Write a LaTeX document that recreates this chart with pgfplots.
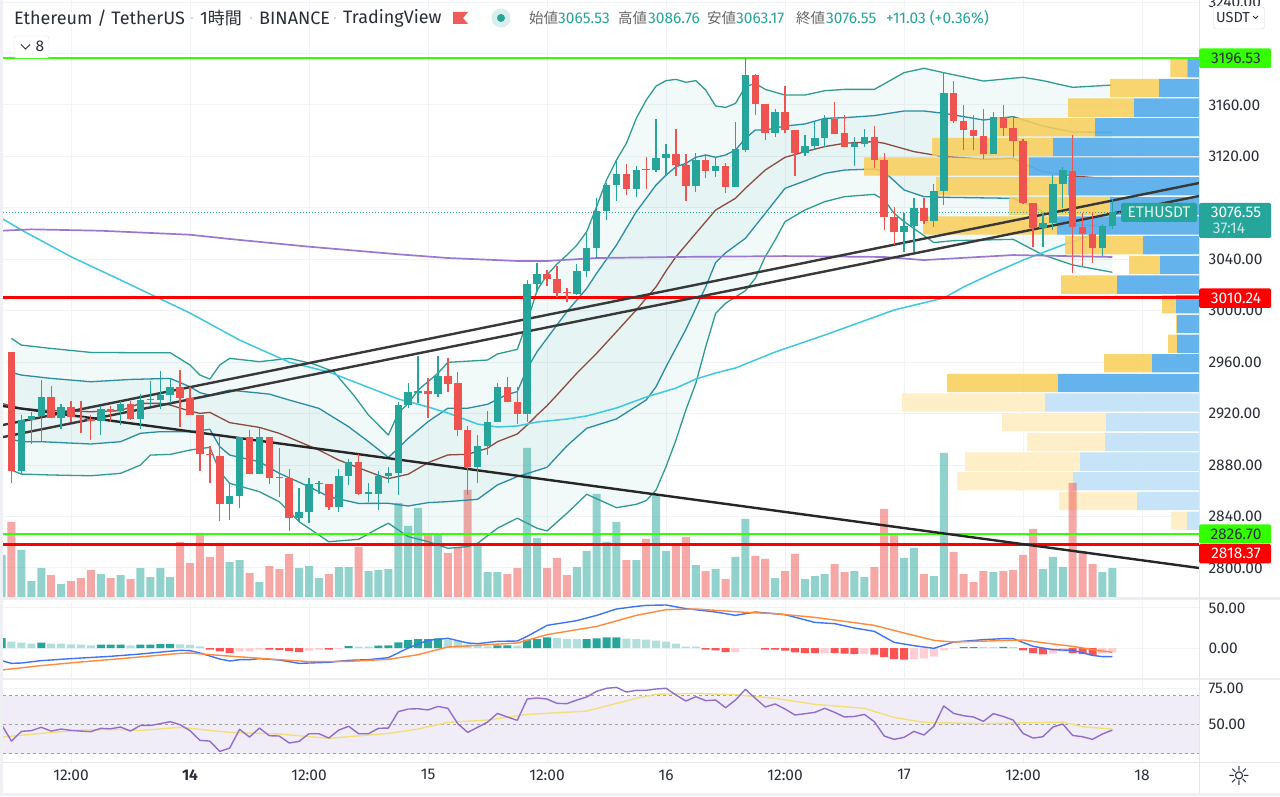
\documentclass[border=0pt]{standalone}
\usepackage{pgfplots}
\usepackage{pgfplotstable}
\usepackage{fontspec}
\pgfplotsset{compat=1.18}
\setmainfont{Fira Sans}
\newfontfamily\cjk{Noto Sans CJK JP}
\newfontfamily\dejavu{DejaVu Sans}
\definecolor{upc}{HTML}{26A69A}
\definecolor{dnc}{HTML}{EF5350}
\definecolor{gridc}{HTML}{F1F3F7}
\definecolor{sepc}{HTML}{E4E6EC}
\definecolor{txt}{HTML}{2A2E39}
\definecolor{bbout}{HTML}{2F9C90}
\definecolor{bbin}{HTML}{2B8CA3}
\definecolor{bbmid}{HTML}{8C4A42}
\definecolor{cyanl}{HTML}{3FC8DE}
\definecolor{purp}{HTML}{9A78D2}
\definecolor{vpb}{HTML}{5AAEEC}
\definecolor{vpy}{HTML}{F9CE58}
\definecolor{vpbl}{HTML}{C6E3F8}
\definecolor{vpyl}{HTML}{FEEFC9}
\definecolor{hgreen}{HTML}{33FF00}
\definecolor{hred}{HTML}{FF0000}
\definecolor{macdb}{HTML}{3F73F5}
\definecolor{macdo}{HTML}{FF8A3C}
\definecolor{hs}{HTML}{26A69A}
\definecolor{hl}{HTML}{B2DFDB}
\definecolor{hr}{HTML}{FF5252}
\definecolor{hrl}{HTML}{FFCDD2}
\definecolor{rsip}{HTML}{8F6FCB}
\definecolor{rsiy}{HTML}{F3DF7A}
\definecolor{rsif}{HTML}{EFEBF7}
\pgfplotstableread{
x o hi lo c
-5 2875.6 2919 2873.5 2915
-4 2915 2921.5 2896.4 2917.9
-3 2917.9 2946 2898 2933.2
-1 2917 2927.5 2907.8 2925
3 2914.2 2926 2903.4 2924
5 2922 2929.5 2911 2927.5
7 2916 2935.2 2907.8 2930.6
8 2930.3 2945 2926 2931
9 2930.6 2953.4 2924 2934.5
10 2934.5 2948 2928 2940.4
16 2850 2865.8 2837.3 2856.2
17 2856.2 2902 2847 2902
19 2872.8 2908.5 2872.8 2901.8
23 2838.8 2862.4 2835.7 2843.8
24 2843.8 2869.7 2834.7 2865
25 2865.3 2867.9 2857.5 2866.3
27 2847.1 2876.7 2843.8 2871.2
28 2871.2 2884.4 2864.2 2882.6
30 2857.8 2866.3 2851.5 2858.8
31 2857.8 2875.6 2845 2871.7
32 2871.7 2878.7 2865.8 2873.8
33 2874.1 2929.3 2856.8 2926.7
34 2926.7 2943.6 2924.2 2936.6
35 2936.3 2964.6 2928 2937.9
37 2935.6 2964.6 2932.7 2949.5
41 2878.8 2903.4 2866.4 2895.1
42 2895.1 2922 2887.9 2913.8
43 2913.5 2943.6 2913.5 2940.7
46 2919.7 3023.9 2913.8 3020.5
47 3020.5 3037.4 3014.8 3028.6
51 3013.3 3036.3 3012.2 3030.9
52 3030.9 3060.7 3026 3048.5
53 3048.5 3087.4 3040.8 3077.6
54 3077.6 3099 3070.6 3098
55 3098 3117.2 3085.6 3106.3
57 3094.4 3112.8 3088.2 3109.4
59 3109.4 3148.8 3108.1 3118.7
60 3118.7 3129.4 3104.8 3122.1
63 3097 3122.4 3092.6 3117.5
65 3108.9 3118.5 3104.2 3112.5
67 3096 3147 3096 3125.5
68 3125 3196.53 3123.2 3183.3
71 3138.4 3156.6 3135.3 3154.5
74 3122.9 3136.6 3120.3 3128.3
75 3128 3147 3125 3134.6
76 3134.6 3152.2 3127 3149
79 3127 3135.3 3112.8 3130.2
80 3129.4 3141 3127.6 3135.3
84 3061.5 3075.7 3045.9 3065.9
85 3065.6 3087.4 3045.9 3080.1
87 3069.8 3098.3 3064.9 3093.1
88 3093.1 3185.9 3082 3169
93 3121.6 3154.2 3121.6 3150.4
98 3064 3075.7 3049.8 3068
99 3068 3105.5 3062.8 3098.5
100 3098.5 3112 3079.6 3109.4
104 3049 3067.4 3042.6 3065.53
105 3065.53 3086.76 3063.17 3076.55
}\upT
\pgfplotstableread{
x o hi lo c
-6 2967.6 2968 2865.8 2875.6
-2 2933.2 2941.4 2916.3 2917
0 2925 2929.5 2913.7 2917.6
1 2917.6 2929.5 2904.6 2916.6
2 2916 2919 2899.5 2914.5
4 2924 2926 2913.7 2921.5
6 2927.7 2929.5 2915 2916
11 2940.4 2954 2909.3 2931.8
12 2931.8 2941 2918.9 2918.9
13 2918.9 2918.9 2875.6 2888.8
14 2888.8 2894.8 2865.8 2887.5
15 2887.3 2902 2836.2 2850
18 2901.8 2907.2 2872.8 2872.8
20 2901.8 2901.8 2865.3 2870.2
21 2870.7 2893 2855.4 2869.7
22 2870 2876.7 2828.5 2838.8
26 2865.3 2865.3 2845 2847.1
29 2882.4 2889 2856.5 2857.8
36 2937.9 2947.5 2916.9 2935.6
38 2949.3 2963 2937.1 2943.3
39 2943.6 2952.7 2902.9 2907
40 2907.3 2910.4 2856.8 2878.8
44 2940.7 2948.3 2928.8 2928.8
45 2928.8 2940.7 2911.7 2919.7
48 3028.6 3031.7 3019.2 3024.4
49 3024.4 3034.8 3010.4 3014
50 3014.3 3017.4 3007 3013.5
56 3106.3 3113.8 3090 3094.4
58 3110.2 3119.8 3094.6 3109.2
61 3122.1 3141 3104.8 3113
62 3113 3121.9 3085.6 3097
64 3117.5 3121.9 3103 3108.9
66 3112.5 3114.6 3091.8 3096
69 3183.3 3184 3152.2 3160.5
70 3160.5 3160.5 3132.7 3138.4
72 3154.5 3174.7 3137.9 3140.5
73 3140.8 3140.8 3104.8 3122.9
77 3149 3162.5 3137.4 3137.4
78 3137.9 3152.2 3127 3127
81 3135.3 3143.6 3110.7 3117.2
82 3117.2 3122.4 3062.8 3073.1
83 3072.6 3080.9 3051.1 3061.5
86 3080.1 3087.4 3067.2 3069.8
89 3169 3178.9 3145.7 3147.8
90 3147.8 3160 3125 3140.3
91 3140.3 3152.2 3125 3135.9
92 3135.9 3156.6 3117.7 3121.6
94 3150.9 3160 3135.9 3141.8
95 3141.8 3150.9 3119.8 3132.2
96 3132.2 3133.3 3083 3083.5
97 3083.5 3083.5 3049.8 3064
101 3108.9 3136.6 3029.1 3064.9
102 3064.9 3075.7 3034.8 3059.7
103 3059.7 3076.5 3037.4 3049
}\dnT
\pgfplotsset{
 base/.style={scale only axis,width=1196pt,xmin=-6.857,xmax=113.74,
   axis line style={draw=none},tick style={draw=none},clip=true,
   xtick={0,12,...,108},
   grid style={color=gridc,line width=1pt},
   tick label style={font=\fontsize{15.5}{17}\selectfont,text=txt},
   /pgf/number format/assume math mode=true,
   /pgf/number format/fixed,/pgf/number format/fixed zerofill,
   /pgf/number format/precision=2,/pgf/number format/1000 sep={},
   yticklabel pos=right,
   yticklabel style={anchor=west,xshift=6pt},
 },
 price/.style={base,height=597pt,at={(3pt,199pt)},anchor=south west,ymin=2777.45,ymax=3241.6},
 bare/.style={xticklabels={},yticklabels={},xtick=\empty,ytick=\empty},
 prof/.style={scale only axis,width=1196pt,height=597pt,at={(3pt,199pt)},anchor=south west,
   xmin=0,xmax=1196,x dir=reverse,ymin=2777.45,ymax=3241.6,hide axis,
   xbar stacked,bar width=18.3pt},
 ln/.style={line width=#1pt,line join=round,mark=none},
 vb/.style={ybar,bar width=8pt,bar shift=0pt,draw=none},
 hb/.style={ybar,bar width=8pt,bar shift=0pt,draw=none,fill=#1},
}
\begin{document}
\begin{tikzpicture}
\useasboundingbox (0,0) rectangle (1280pt,796pt);
\fill[white] (0,0) rectangle (1280pt,796pt);

% ---- price grid and price ticks
\begin{axis}[price,xmajorgrids,ymajorgrids,xticklabels={},
  ytick={2800,2840,2880,2920,2960,3000,3040,3120,3160,3240},
  extra y ticks={3080,3200},extra y tick labels={},extra y tick style={grid=major}]
\addplot[draw=none,forget plot] coordinates {(0,3000)};
\end{axis}

% ---- volume profile outside the value area
\begin{axis}[prof]
\addplot[fill=vpbl,draw=none] coordinates {(154,2928.6)(93,2913.3)(94,2898)(119,2882.7)(126,2867.4)(62,2852.1)(12,2836.8)};
\addplot[fill=vpyl,draw=none] coordinates {(143,2928.6)(104,2913.3)(78,2898)(115,2882.7)(116,2867.4)(78,2852.1)(16,2836.8)};
\end{axis}

% ---- volume
\begin{axis}[base,height=597pt,at={(3pt,199pt)},anchor=south west,ymin=0,ymax=597,bare]
\addplot[vb,fill=upc,fill opacity=.5] coordinates {(-7,42)(-5,47)(-4,16)(-3,29)(-1,13)(3,23)(5,22)(7,29)(8,20)(9,29)(10,20)(16,35)(17,37)(19,15)(23,29)(24,31)(25,19)(27,30)(28,30)(30,26)(31,27)(32,28)(33,94)(34,71)(35,89)(37,62)(41,52)(42,25)(43,25)(46,149)(47,59)(51,30)(52,46)(53,103)(54,55)(55,75)(57,37)(59,102)(60,46)(63,32)(65,28)(67,40)(68,78)(71,19)(74,18)(75,21)(76,23)(79,26)(80,20)(84,39)(85,49)(87,21)(88,144)(93,25)(98,28)(99,40)(100,30)(104,25)(105,29)};
\addplot[vb,fill=dnc,fill opacity=.5] coordinates {(-6,75)(-2,22)(0,16)(1,19)(2,27)(4,19)(6,18)(11,55)(12,34)(13,64)(14,40)(15,54)(18,24)(20,31)(21,28)(22,43)(26,23)(29,50)(36,62)(38,44)(39,49)(40,107)(44,23)(45,29)(48,29)(49,39)(50,22)(56,37)(58,58)(61,52)(62,60)(64,26)(66,18)(69,41)(70,38)(72,26)(73,43)(77,33)(78,25)(81,30)(82,88)(83,63)(86,23)(89,45)(90,23)(91,15)(92,26)(94,26)(95,27)(96,42)(97,68)(101,114)(102,46)(103,33)};
\end{axis}

% ---- Bollinger bands and moving averages
\begin{axis}[price,bare]
% outer band area: upper edge, then lower edge backwards
\addplot[fill=upc,fill opacity=.06,draw=none] coordinates {(-6,2978.5)(-5,2973.3)(-2,2970.7)(2,2967.6)(6,2967.4)(10,2967.4)(12,2957.8)(13,2950)(14,2946.9)(15,2957.8)(16,2963)(19,2960.4)(22,2963)(24.5,2958.5)(26.5,2952.6)(28.5,2934.4)(30,2918.9)(32,2903.4)(33,2920.3)(34,2928)(35,2938.4)(37,2951.4)(38,2959.9)(42,2961.7)(43,2966.4)(45,2970)(46,2991.5)(47,3016)(48,3027.8)(49,3036.3)(50,3043.3)(51,3051)(52,3061.5)(53,3081)(54,3101.7)(55,3117.2)(56,3130.2)(57,3149.6)(58,3163.8)(59,3174.7)(60,3178.9)(61,3179.9)(62,3177.6)(63,3178.9)(64,3171.6)(65,3159.2)(66,3158.1)(67,3161.2)(68,3174.2)(69,3176.8)(70,3172.1)(72,3167.7)(74,3167.7)(76,3171.1)(78,3172.1)(81,3172.1)(84,3185.1)(86,3188.5)(88,3185.1)(92,3178.6)(96,3181.5)(98,3178.9)(101,3173.7)(105,3175.5)
(105,3029.9)(101,3035.6)(98,3043.4)(95,3055.5)(89,3054.5)(87,3053)(84,3069.3)(83,3075.7)(82,3086.1)(81,3090.5)(78,3088.7)(76,3084.8)(74,3078.3)(72,3069.3)(71,3055)(70,3042)(69,3025.2)(68,3015.6)(66,3005.8)(65,2998)(64,2972)(63,2943.6)(62,2922.9)(61,2899.5)(60,2878.8)(59,2860.7)(58,2852.4)(57,2849.5)(55,2846.9)(52,2857.3)(50,2842.5)(48,2828.8)(47,2830.9)(45,2838.7)(43,2830.9)(41,2819.2)(40,2816.6)(38,2815.3)(36,2820.5)(34,2824.4)(32,2834.8)(31,2830.9)(29,2822.3)(26,2820.4)(23,2836)(21,2851.5)(19,2859.3)(16,2865.8)(15,2874.9)(14,2893.8)(12,2891.7)(10,2888.3)(8,2887.8)(7,2880)(5,2873.6)(2,2871.7)(-2,2872.3)(-5,2873)(-6,2876)} -- cycle;
% inner band area
\addplot[fill=upc,fill opacity=.06,draw=none] coordinates {(-6,2952)(-5,2950)(-2,2947.4)(2,2944.8)(6,2946.6)(10,2947.4)(12,2940.9)(13,2936.3)(14,2934.4)(15,2936.5)(16,2938.3)(20,2935.2)(22,2930.6)(25,2924.1)(28,2909.8)(30,2898.2)(32,2886)(33,2893.1)(34,2900.8)(36,2913.8)(38,2924.2)(40,2924.2)(42,2927.3)(44,2935)(45,2937.1)(46,2955.2)(47,2968.2)(48,2978.6)(50,2999.3)(52,3017.4)(53,3029.1)(54,3040)(55,3051.1)(56,3064.1)(57,3077)(58,3087.4)(59,3097.8)(60,3105.5)(61,3112)(62,3114.6)(63,3119.3)(64,3121.1)(65,3119.3)(66,3121.1)(67,3125)(68,3134)(69,3140.5)(70,3140.5)(72,3143.6)(74,3145.2)(76,3149.6)(78,3150.1)(81,3151.7)(84,3155.3)(86,3155.3)(88,3153.5)(92,3148.3)(95,3150.9)(98,3143.6)(101,3139)(105,3138.7)
(105,3065.4)(101,3066.7)(99,3073.1)(97,3080.9)(95,3087.4)(88,3088.2)(86,3088.7)(84,3093.9)(82,3108.1)(81,3110.2)(78,3109.4)(76,3106.8)(74,3100.9)(72,3095.2)(70,3075.7)(68,3056.3)(66,3045)(65,3037.5)(64,3018.7)(63,3001.9)(62,2985.5)(60,2956.5)(59,2941)(58,2930.6)(55,2915.9)(52,2908.6)(50,2894.9)(48,2878.3)(45,2871)(43,2864.6)(41,2853.4)(38,2851.6)(36,2850.8)(34,2848.2)(32,2850.3)(29,2850.2)(26,2855.4)(24,2863.2)(21,2873.6)(19,2882.6)(16,2887.8)(15,2894.3)(14,2907.8)(12,2906)(9,2906)(7,2904.7)(5,2898.2)(2,2896.4)(-3,2898.2)(-5,2898.2)(-6,2900)} -- cycle;
\addplot[ln=1.3,color=bbout] coordinates {(-6,2978.5)(-5,2973.3)(-2,2970.7)(2,2967.6)(6,2967.4)(10,2967.4)(12,2957.8)(13,2950)(14,2946.9)(15,2957.8)(16,2963)(19,2960.4)(22,2963)(24.5,2958.5)(26.5,2952.6)(28.5,2934.4)(30,2918.9)(32,2903.4)(33,2920.3)(34,2928)(35,2938.4)(37,2951.4)(38,2959.9)(42,2961.7)(43,2966.4)(45,2970)(46,2991.5)(47,3016)(48,3027.8)(49,3036.3)(50,3043.3)(51,3051)(52,3061.5)(53,3081)(54,3101.7)(55,3117.2)(56,3130.2)(57,3149.6)(58,3163.8)(59,3174.7)(60,3178.9)(61,3179.9)(62,3177.6)(63,3178.9)(64,3171.6)(65,3159.2)(66,3158.1)(67,3161.2)(68,3174.2)(69,3176.8)(70,3172.1)(72,3167.7)(74,3167.7)(76,3171.1)(78,3172.1)(81,3172.1)(84,3185.1)(86,3188.5)(88,3185.1)(92,3178.6)(96,3181.5)(98,3178.9)(101,3173.7)(105,3175.5)};
\addplot[ln=1.3,color=bbout] coordinates {(-6,2876)(-5,2873)(-2,2872.3)(2,2871.7)(5,2873.6)(7,2880)(8,2887.8)(10,2888.3)(12,2891.7)(14,2893.8)(15,2874.9)(16,2865.8)(19,2859.3)(21,2851.5)(23,2836)(26,2820.4)(29,2822.3)(31,2830.9)(32,2834.8)(34,2824.4)(36,2820.5)(38,2815.3)(40,2816.6)(41,2819.2)(43,2830.9)(45,2838.7)(47,2830.9)(48,2828.8)(50,2842.5)(52,2857.3)(55,2846.9)(57,2849.5)(58,2852.4)(59,2860.7)(60,2878.8)(61,2899.5)(62,2922.9)(63,2943.6)(64,2972)(65,2998)(66,3005.8)(68,3015.6)(69,3025.2)(70,3042)(71,3055)(72,3069.3)(74,3078.3)(76,3084.8)(78,3088.7)(81,3090.5)(82,3086.1)(83,3075.7)(84,3069.3)(87,3053)(89,3054.5)(95,3055.5)(98,3043.4)(101,3035.6)(105,3029.9)};
\addplot[ln=1.3,color=bbin] coordinates {(-6,2952)(-5,2950)(-2,2947.4)(2,2944.8)(6,2946.6)(10,2947.4)(12,2940.9)(13,2936.3)(14,2934.4)(15,2936.5)(16,2938.3)(20,2935.2)(22,2930.6)(25,2924.1)(28,2909.8)(30,2898.2)(32,2886)(33,2893.1)(34,2900.8)(36,2913.8)(38,2924.2)(40,2924.2)(42,2927.3)(44,2935)(45,2937.1)(46,2955.2)(47,2968.2)(48,2978.6)(50,2999.3)(52,3017.4)(53,3029.1)(54,3040)(55,3051.1)(56,3064.1)(57,3077)(58,3087.4)(59,3097.8)(60,3105.5)(61,3112)(62,3114.6)(63,3119.3)(64,3121.1)(65,3119.3)(66,3121.1)(67,3125)(68,3134)(69,3140.5)(70,3140.5)(72,3143.6)(74,3145.2)(76,3149.6)(78,3150.1)(81,3151.7)(84,3155.3)(86,3155.3)(88,3153.5)(92,3148.3)(95,3150.9)(98,3143.6)(101,3139)(105,3138.7)};
\addplot[ln=1.3,color=bbin] coordinates {(-6,2900)(-5,2898.2)(-3,2898.2)(2,2896.4)(5,2898.2)(7,2904.7)(9,2906)(12,2906)(14,2907.8)(15,2894.3)(16,2887.8)(19,2882.6)(21,2873.6)(24,2863.2)(26,2855.4)(29,2850.2)(32,2850.3)(34,2848.2)(36,2850.8)(38,2851.6)(41,2853.4)(43,2864.6)(45,2871)(48,2878.3)(50,2894.9)(52,2908.6)(55,2915.9)(58,2930.6)(59,2941)(60,2956.5)(62,2985.5)(63,3001.9)(64,3018.7)(65,3037.5)(66,3045)(68,3056.3)(70,3075.7)(72,3095.2)(74,3100.9)(76,3106.8)(78,3109.4)(81,3110.2)(82,3108.1)(84,3093.9)(86,3088.7)(88,3088.2)(95,3087.4)(97,3080.9)(99,3073.1)(101,3066.7)(105,3065.4)};
\addplot[ln=1.3,color=bbmid] coordinates {(-7,2928)(-5,2924)(-2,2922.3)(2,2921.5)(5,2922.3)(7,2928)(9,2928)(10,2926.7)(12,2922)(13,2920.2)(14,2921)(15,2917)(16,2913)(19,2909.3)(21,2904.7)(23,2898.2)(25,2891.7)(27,2883.9)(30,2874.9)(31,2872)(32,2869.5)(34,2872.9)(36,2881.9)(38,2887.9)(40,2888.4)(42,2893.1)(43,2898.2)(45,2904.2)(46,2911.2)(47,2919)(48,2926.2)(49,2934.5)(51,2951.4)(53,2966.9)(55,2983.7)(57,3000.6)(59,3018.7)(60,3031)(61,3042)(63,3060.2)(65,3078.3)(67,3087.4)(68,3095.2)(70,3109.4)(72,3119.3)(74,3123.7)(76,3127.6)(78,3130.2)(81,3131.5)(82,3130.2)(85,3123.7)(88,3119.8)(90,3119)(92,3117.7)(95,3118.5)(96,3114.6)(98,3108.1)(101,3104.8)(105,3102.4)};
\addplot[ln=1.5,color=cyanl] coordinates {(-7,3071.9)(-5,3062.8)(0,3042)(5,3023.9)(12,2998.2)(17,2977.2)(22,2960)(26,2952.4)(33,2931.4)(36,2925.2)(38,2920.5)(41,2911.9)(43,2909.6)(45,2910.4)(47,2913.5)(50,2915.8)(52,2918.2)(55,2924.4)(58,2932.9)(61,2939.9)(63,2946.9)(65,2951.6)(67,2955.5)(68,2958.6)(71,2967.9)(76,2981.1)(83,3000.6)(88,3009.9)(90,3018.5)(93,3029.3)(96,3039.4)(100,3051.1)(103,3058.9)(105,3064.3)};
\addplot[ln=1.7,color=purp] coordinates {(-7,3062.2)(-4,3063.3)(3,3062.2)(12,3059.1)(16,3055.8)(24,3049.8)(33,3043.9)(38,3041)(45,3038.7)(48,3038.7)(53,3041)(61,3041.8)(72,3042.5)(82,3041.8)(86,3039.4)(95,3043.3)(105,3041.8)};
\end{axis}

% ---- volume profile value area
\begin{axis}[prof]
\addplot[fill=vpb,fill opacity=.93,draw=none] coordinates {(11.7,3188.5)(40,3173.2)(65,3157.9)(104,3142.6)(146,3127.3)(170,3112.1)(131,3096.8)(89,3081.5)(142,3066.2)(56,3050.9)(39,3035.6)(82,3020.3)(23,3005)(22,2989.7)(22,2974.4)(47,2959.2)(141,2943.9)};
\addplot[fill=vpy,fill opacity=.85,draw=none] coordinates {(17,3188.5)(49,3173.2)(66,3157.9)(103,3142.6)(121,3127.3)(165,3112.1)(132,3096.8)(101,3081.5)(134,3066.2)(78,3050.9)(31,3035.6)(56,3020.3)(14,3005)(1,2989.7)(9,2974.4)(48,2959.2)(111,2943.9)};
\end{axis}

% ---- levels, trend lines, candles
\begin{axis}[price,bare]
\addplot[ln=2.3,color=hgreen] coordinates {(-6.857,3196.53)(113.74,3196.53)};
\addplot[ln=2.3,color=hred] coordinates {(-6.857,3010.24)(113.74,3010.24)};
\addplot[ln=2.3,color=hgreen] coordinates {(-6.857,2826.70)(113.74,2826.70)};
\addplot[ln=2.3,color=hred] coordinates {(-6.857,2818.37)(113.74,2818.37)};
\addplot[ln=2.4,color=black!78] coordinates {(-6.857,2911.2)(113.74,3099.3)};
\addplot[ln=2.4,color=black!78] coordinates {(-6.857,2901.8)(113.74,3089.2)};
\addplot[ln=2.4,color=black!85] coordinates {(-6.857,2925.9)(113.74,2800)};
\addplot[line width=1pt,color=upc,dash pattern=on 1pt off 2pt,mark=none] coordinates {(-6.857,3076.55)(113.74,3076.55)};
% wicks
\addplot[draw=none,mark=none,error bars/.cd,y dir=plus,y explicit,error mark=none,
  error bar style={line width=1.3pt,color=upc}]
  table[x=x,y=lo,y error plus expr=\thisrow{hi}-\thisrow{lo}] {\upT};
\addplot[draw=none,mark=none,error bars/.cd,y dir=plus,y explicit,error mark=none,
  error bar style={line width=1.3pt,color=dnc}]
  table[x=x,y=lo,y error plus expr=\thisrow{hi}-\thisrow{lo}] {\dnT};
% bodies
\addplot[draw=none,mark=none,error bars/.cd,y dir=plus,y explicit,error mark=none,
  error bar style={line width=7.5pt,color=upc}]
  table[x=x,y=o,y error plus expr=\thisrow{c}-\thisrow{o}] {\upT};
\addplot[draw=none,mark=none,error bars/.cd,y dir=plus,y explicit,error mark=none,
  error bar style={line width=7.5pt,color=dnc}]
  table[x=x,y=c,y error plus expr=\thisrow{o}-\thisrow{c}] {\dnT};
\end{axis}

% ---- MACD pane
\begin{axis}[base,height=76pt,at={(3pt,118pt)},anchor=south west,ymin=-37.5,ymax=57.5,
  xmajorgrids,ymajorgrids,xticklabels={},ytick={0,50}]
\addplot[hb=hs] coordinates {(-7,12.5)(-3,6.7)(3,4.2)(4,4.2)(5,4.2)(7,4.2)(8,4.2)(9,5)(10,5)(28,2.5)(31,2.9)(32,3.3)(33,7.1)(34,10)(35,11.25)(36,11.25)(37,12.1)(43,3.3)(44,3.3)(46,10.4)(47,11.25)(48,13.3)(52,11.25)(53,12.1)(54,13.3)(55,13.3)(90,1.2)(91,1.2)(94,1.5)};
\addplot[hb=hl] coordinates {(-6,7.9)(-5,6.7)(-4,5.4)(-2,5.4)(-1,5.4)(0,4.6)(1,4.2)(2,3.3)(6,3.3)(11,4.6)(12,3.8)(13,2.1)(29,1.7)(30,1.7)(38,10.4)(39,9.2)(40,4.2)(41,2.5)(42,2.1)(45,2.9)(49,12.5)(50,11.25)(51,11.25)(56,11.7)(57,11.25)(58,10.4)(59,9.2)(60,7.9)(61,5.4)(62,1.7)(63,1.7)(92,1)(93,1)(95,1)};
\addplot[hb=hr] coordinates {(14,-2.1)(15,-4.2)(16,-6.25)(20,-2.1)(21,-2.5)(22,-3.75)(23,-5)(26,-2.1)(64,-2.1)(65,-2.9)(66,-5)(70,-2.1)(71,-2.1)(72,-3.3)(73,-5.4)(74,-6.25)(75,-6.25)(77,-6.25)(78,-7.1)(79,-7.5)(81,-8.3)(82,-11.25)(83,-13.75)(84,-14.6)(96,-2.9)(97,-6.25)(98,-7.9)(101,-6.25)(102,-7.5)(103,-8.75)};
\addplot[hb=hrl] coordinates {(17,-4.2)(18,-4.2)(19,-2.1)(24,-3.3)(25,-2.1)(27,-1.25)(67,-5)(68,-.4)(69,-.4)(76,-6.25)(80,-7.5)(85,-13.75)(86,-12.9)(87,-10.8)(88,-2.9)(89,-.4)(99,-7.1)(100,-4.6)(104,-7.1)(105,-5.4)};
\addplot[ln=1.4,color=macdb] coordinates {(-7,-15.8)(-6,-19.2)(-5,-18.75)(-3,-15.8)(0,-13.3)(4,-10.4)(7,-7.5)(11,-2.9)(12,-3.3)(13,-6.25)(15,-13.75)(16,-16.25)(17,-14.6)(18,-14.6)(19,-13.3)(21,-15)(23,-19.2)(26,-17.9)(28,-15.4)(30,-14.6)(32,-12.1)(34,0)(36,9.6)(38,12.1)(40,6.25)(41,5.4)(43,8.3)(45,8.75)(46,14.6)(48,28.3)(51,34.2)(53,40.8)(55,48.75)(57,52)(58,53.3)(60,53.75)(62,49.2)(65,45)(67,40.8)(69,45)(72,41.7)(75,32)(77,30.4)(79,25)(81,20.8)(83,7)(85,2.9)(87,-.4)(89,7.5)(92,10.4)(94,11.7)(95,11.7)(97,2.1)(99,-2.1)(101,-2.9)(103,-9.2)(104,-10.8)(105,-10.8)};
\addplot[ln=1.4,color=macdo] coordinates {(-7,-27.5)(-3,-22)(1,-17.5)(5,-13.3)(11,-6.7)(12,-6.3)(14,-8.3)(20,-13.75)(24,-17)(28,-16.7)(32,-14.2)(35,-8.3)(38,1.25)(45,6.25)(48,16.7)(53,27)(57,40.8)(60,47.9)(63,48.75)(68,44.6)(71,42.9)(75,38.3)(81,28.3)(84,18.75)(87,9.6)(89,7.5)(96,10)(99,5)(101,2.1)(103,-2.1)(105,-5.4)};
\end{axis}

% ---- RSI pane
\begin{axis}[base,height=82pt,at={(3pt,34pt)},anchor=south west,ymin=24.3,ymax=80.8,
  xmajorgrids,ymajorgrids,ytick={50,75},
  xticklabels={12:00,\textbf{14},12:00,15,12:00,16,12:00,17,12:00,18},
  xticklabel style={yshift=-4pt}]
\addplot[fill=rsif,draw=none,fill opacity=.85] coordinates {(-6.857,30)(113.74,30)(113.74,70)(-6.857,70)} -- cycle;
\addplot[line width=1.2pt,color=gray!75,dashed,mark=none] coordinates {(-6.857,70)(113.74,70)};
\addplot[line width=1.2pt,color=gray!75,dashed,mark=none] coordinates {(-6.857,50)(113.74,50)};
\addplot[line width=1.2pt,color=gray!75,dashed,mark=none] coordinates {(-6.857,30)(113.74,30)};
\addplot[ln=1.4,color=rsiy] coordinates {(-7,41.5)(-3,44)(1,46.3)(5,46.7)(7,46)(11,48.2)(16,44.7)(21,43.6)(26,40.6)(32,44)(35,47)(38,51.6)(42,53.2)(46,57.1)(52,59.4)(57,68.2)(59,71)(63,71.5)(67,70.7)(71,68.2)(75,64)(80,61.3)(83,55)(86,51.6)(92,50.7)(100,51.8)(102,48.6)(105,47)};
\addplot[ln=1.4,color=rsip] coordinates {(-7,50)(-6,38.7)(-5,45.4)(-4,45.9)(-3,48.2)(-2,45.6)(-1,47)(0,46.1)(1,45.6)(2,45.2)(3,47.5)(4,47.2)(5,48.4)(6,45.6)(7,49.5)(8,49.5)(9,50.7)(10,52.1)(11,50)(12,45.9)(13,39.2)(14,38.7)(15,31.6)(16,33.9)(17,46.8)(18,41.5)(19,47.7)(20,42.4)(21,42.2)(22,37.4)(23,38.5)(24,43.8)(25,43.8)(26,40.8)(27,46.3)(28,48.9)(29,43.8)(30,43.8)(31,47.5)(32,47.7)(33,59)(34,60.8)(35,61)(36,60.2)(37,62.6)(38,61.3)(39,50.7)(40,44.7)(41,48.2)(42,51.8)(43,57.8)(44,55.3)(45,53)(46,67.7)(47,68.4)(48,67.7)(49,64.7)(50,64.5)(51,67)(52,69.1)(53,73)(54,75.1)(55,75.7)(56,72.5)(57,73.7)(58,73.7)(59,74.6)(60,75.1)(61,70.5)(62,66.3)(63,69.3)(64,66.6)(65,67)(66,61.7)(67,67)(68,74.4)(69,68.2)(70,62.2)(71,64.3)(72,60.8)(73,56.7)(74,57.6)(75,58.5)(76,61.3)(77,58.5)(78,55.3)(79,55.7)(80,57.1)(81,52.1)(82,42.2)(83,39.9)(84,41.3)(85,45.4)(86,42.9)(87,48.9)(88,62.9)(89,57.8)(90,56.2)(91,55.3)(92,52.3)(93,57.6)(94,55.7)(95,53.2)(96,44)(97,40.8)(98,41.7)(99,48.4)(100,50.5)(101,42.6)(102,41.7)(103,39.9)(104,43.6)(105,46.3)};
\end{axis}

% ---- chrome and labels (coordinates in reference pixels)
\begin{scope}[x=1pt,y=-1pt,yshift=796pt]
\fill[sepc!60] (0,0) rectangle (3,796);
\fill[sepc!60] (0,793) rectangle (1280,796);
\fill[sepc!70] (3,597) rectangle (1280,600);
\fill[sepc!70] (3,678) rectangle (1280,680);
\fill[sepc] (3,762) rectangle (1280,763.2);
\draw[sepc,line width=1pt] (1199.5,0) -- (1199.5,793);

\tikzset{h/.style={anchor=west,inner sep=0pt,font=\fontsize{18}{20}\selectfont,text=txt},
         v/.style={anchor=west,inner sep=0pt,font=\fontsize{15.5}{17}\selectfont,text=upc},
         k/.style={anchor=west,inner sep=0pt,font=\fontsize{14.5}{16}\selectfont\cjk,text=black!60},
         tag/.style={anchor=center,inner sep=0pt,font=\fontsize{15.5}{17}\selectfont}}
\node[h] at (14,18) {Ethereum / TetherUS};
\fill[black!30] (192,18) circle (0.9);
\node[h] at (200,18) {1{\cjk\fontsize{17}{19}\selectfont 時間}};
\fill[black!30] (251,18) circle (0.9);
\node[h] at (259,18) {BINANCE};
\fill[black!30] (335,18) circle (0.9);
\node[h] at (343,18) {TradingView};
\fill[dnc!95!white] (453,12) -- (468,12) -- (463,18) -- (468,24) -- (453,24) -- cycle;
\fill[upc!18] (501,18) circle (9.5);
\fill[upc] (501,18) circle (4);
\node[k] at (529,18) {始値}; \node[v] at (558,18) {3065.53};
\node[k] at (618,18) {高値}; \node[v] at (648,18) {3086.76};
\node[k] at (707,18) {安値}; \node[v] at (736,18) {3063.17};
\node[k] at (796,18) {終値}; \node[v] at (826,18) {3076.55};
\node[v] at (886,18) {+11.03 (+0.36\%)};

\draw[black!12,fill=white,rounded corners=2.5] (14,36) rectangle (49,58);
\draw[txt,line width=1pt] (21,44.5) -- (25.5,49) -- (30,44.5);
\node[tag,text=txt] at (40,46.5) {8};

\fill[white] (1213,6) rectangle (1265,30);
\draw[black!15,fill=white,rounded corners=3] (1213.5,7) rectangle (1264.5,29);
\node[tag,text=txt,font=\fontsize{14.5}{16}\selectfont] at (1233,17.5) {USDT};
\draw[txt,line width=1pt] (1253,16) -- (1255.5,18.5) -- (1258,16);

\fill[hgreen,rounded corners=1.5] (1199,48.5) rectangle (1271,68);
\node[tag,text=txt] at (1236,58.5) {3196.53};
\fill[hred,rounded corners=1.5] (1199,288.5) rectangle (1271,308);
\node[tag,text=white] at (1236,298.5) {3010.24};
\fill[hgreen,rounded corners=1.5] (1199,524.5) rectangle (1271,543.5);
\node[tag,text=txt] at (1236,534.5) {2826.70};
\fill[hred,rounded corners=1.5] (1199,544) rectangle (1271,563.5);
\node[tag,text=white] at (1236,553.5) {2818.37};
\fill[upc,rounded corners=1.5] (1199,203) rectangle (1271,238);
\node[tag,text=white] at (1236,212.5) {3076.55};
\node[tag,text=white!75!upc] at (1229,228.5) {37:14};
\fill[upc,rounded corners=2] (1121,203) rectangle (1197,222);
\node[tag,text=white!85!upc] at (1159,212.5) {ETHUSDT};
\node[inner sep=0pt,font=\fontsize{26}{28}\selectfont\dejavu,text=txt] at (1239,776) {☼};
\end{scope}
\end{tikzpicture}
\end{document}
